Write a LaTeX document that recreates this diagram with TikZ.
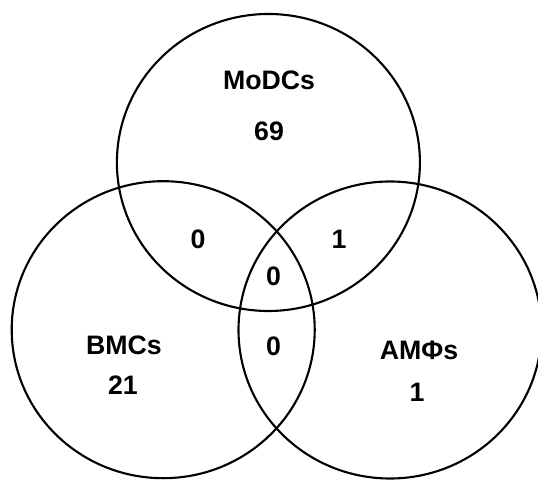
\documentclass[tikz,border=0pt]{standalone}
\usepackage{fontspec}
\setmainfont{Liberation Sans}
\usetikzlibrary{positioning}

\begin{document}
\begin{tikzpicture}[font=\fontsize{7.6}{9}\selectfont\bfseries,
    set/.style={line width=0.6pt, x radius=1.515cm, y radius=1.485cm},
    num/.style={inner sep=1pt}]
    \useasboundingbox (0,0) rectangle (5.38,4.80);
    % set centres
    \coordinate (modc) at (2.684,3.175);
    \coordinate (bmc) at (1.632,1.503);
    \coordinate (amp) at (3.900,1.500);
    \draw[set] (modc) ellipse [];
    \draw[set] (bmc) ellipse [];
    \draw[set] (amp) ellipse [];
    % set names and counts
    \node (nmodc) at (2.69,4.00) {MoDCs};
    \node[num] (cmodc) at (2.69,3.49) {69};
    \node (nbmc) at (1.24,1.35) {BMCs};
    \node[num] (cbmc) at (1.23,0.95) {21};
    \node (namp) at (4.19,1.30) {AMΦs};
    \node[num] (camp) at (4.17,0.88) {1};
    % overlaps
    \node[num] (mb) at (1.98,2.41) {0};
    \node[num] (ma) at (3.39,2.41) {1};
    \node[num] (mba) at (2.735,2.04) {0};
    \node[num] (ba) at (2.735,1.333) {0};
\end{tikzpicture}
\end{document}
